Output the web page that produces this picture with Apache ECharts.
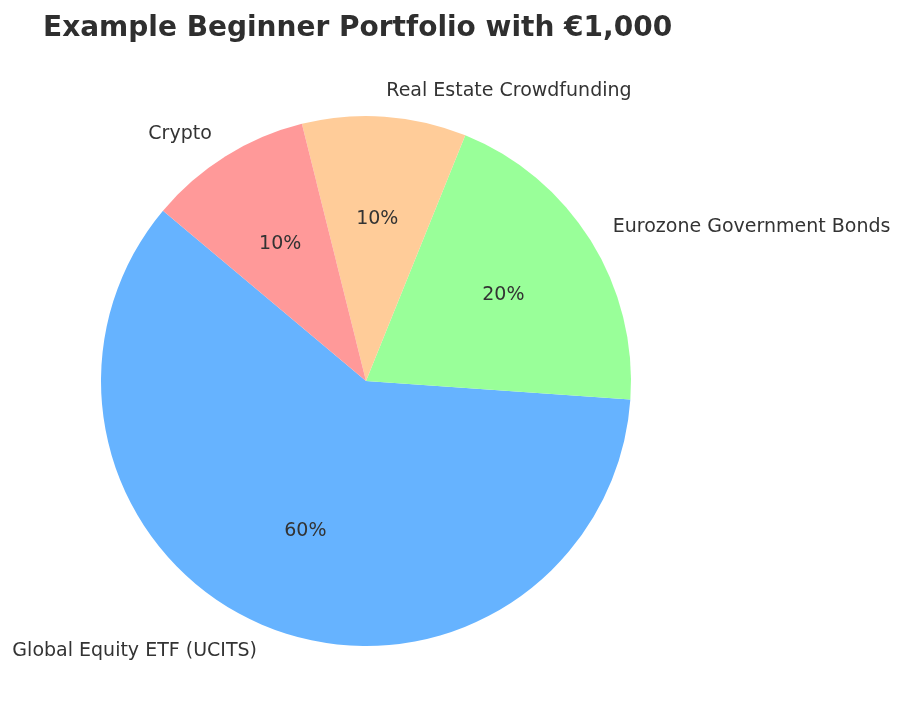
<!DOCTYPE html>
<html><head><meta charset="utf-8">
<script src="https://cdn.jsdelivr.net/npm/echarts@6/dist/echarts.min.js"></script>
<style>html,body{margin:0;padding:0;background:#fff}#c{width:903px;height:728px}</style>
</head><body><div id="c"></div>
<script>
const categories = ["Global Equity ETF (UCITS)", "Eurozone Government Bonds", "Real Estate Crowdfunding", "Crypto"];
const values = [60, 20, 10, 10];
const colors = ["#66b3ff", "#99ff99", "#ffcc99", "#ff9999"];
const data = categories.map((n, i) => ({ name: n, value: values[i], itemStyle: { color: colors[i] } }));
const font = "DejaVu Sans";
const chart = echarts.init(document.getElementById('c'));
chart.setOption({
  animation: false,
  title: { text: "Example Beginner Portfolio with €1,000", left: 38, top: 10,
    textStyle: { fontFamily: font, fontSize: 28, fontWeight: 'bold', color: '#2f2f2f' } },
  series: [
    { type: 'pie', center: [366, 381], radius: [0, 265], startAngle: 140, clockwise: false,
      avoidLabelOverlap: false, silent: true, data: data,
      label: { position: 'outside', fontFamily: font, fontSize: 19, color: '#333', distanceToLabelLine: 0 },
      labelLine: { show: false, length: 26, length2: 0 } },
    { type: 'pie', center: [366, 381], radius: [0, 318], startAngle: 140, clockwise: false,
      avoidLabelOverlap: false, silent: true,
      data: data.map(d => ({ name: d.name, value: d.value, itemStyle: { color: 'transparent' } })),
      label: { position: 'inside', formatter: p => p.value + '%', fontFamily: font, fontSize: 19, color: '#333' },
      labelLine: { show: false } }
  ]
});
</script></body></html>
